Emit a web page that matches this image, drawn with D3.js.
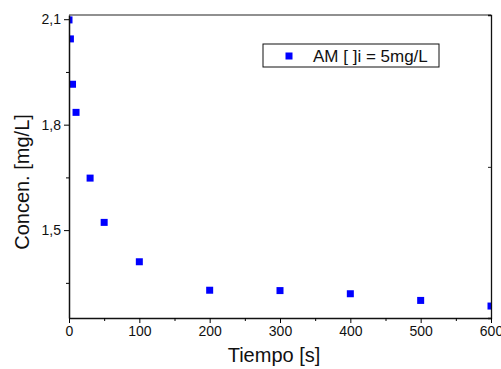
<!DOCTYPE html>
<html>
<head>
<meta charset="utf-8">
<script src="https://cdn.jsdelivr.net/npm/d3@7"></script>
<style>
  html, body { margin: 0; padding: 0; background: #fff; }
  svg { display: block; font-family: Arial, "Liberation Sans", sans-serif; }
</style>
</head>
<body>
<div id="chart"></div>
<script>
// data
const tiempo = [0, 2, 5, 10, 30, 50, 100, 200, 300, 400, 500, 600];
const concen = [2.098, 2.044, 1.915, 1.835, 1.648, 1.522, 1.41, 1.329, 1.328, 1.319, 1.300, 1.284];
const xTicks = [0, 100, 200, 300, 400, 500, 600];
const xMinor = [50, 150, 250, 350, 450, 550];
const yTicks = [1.5, 1.8, 2.1];
const yMinor = [1.35, 1.65, 1.95];
const rightTicks = [1.68];
const legendLabel = 'AM [ ]i = 5mg/L';

const W = 501, H = 369;
const m = { l: 69, r: 10, t: 15, b: 51 };
const pw = W - m.l - m.r, ph = H - m.t - m.b;

const x = d3.scaleLinear().domain([0, 600]).range([0, pw]);
const y = d3.scaleLinear().domain([1.25, 2.112]).range([ph, 0]);
const fmt = d => String(d).replace('.', ',');

const svg = d3.select('#chart').append('svg').attr('width', W).attr('height', H);
const g = svg.append('g').attr('transform', `translate(${m.l},${m.t})`);

svg.append('defs').append('clipPath').attr('id', 'clip')
  .append('rect').attr('width', pw).attr('height', ph);

// points
g.append('g').attr('clip-path', 'url(#clip)')
  .selectAll('rect').data(tiempo.map((t, i) => [t, concen[i]])).join('rect')
  .attr('x', d => x(d[0]) - 3.5).attr('y', d => y(d[1]) - 3.5)
  .attr('width', 7).attr('height', 7).attr('fill', '#0000ff');

// frame top + right
g.append('line').attr('x1', 0).attr('x2', pw).attr('y1', 0).attr('y2', 0)
  .attr('stroke', '#222').attr('stroke-width', 1.2);
const ra = g.append('g').attr('transform', `translate(${pw},0)`)
  .call(d3.axisRight(y).tickValues(rightTicks).tickSize(-3).tickFormat(''));
ra.select('.domain').attr('stroke', '#111').attr('stroke-width', 1.3);
ra.selectAll('.tick line').attr('stroke', '#222');

// x axis
const xa = g.append('g').attr('transform', `translate(0,${ph})`)
  .call(d3.axisBottom(x).tickValues(xTicks).tickSize(5).tickPadding(3).tickSizeOuter(0));
xa.select('.domain').attr('stroke', '#111').attr('stroke-width', 1.5);
xa.selectAll('.tick text').attr('font-size', 14).attr('fill', '#111').attr('font-family', 'Arial, "Liberation Sans", sans-serif');
g.append('g').attr('transform', `translate(0,${ph})`)
  .call(d3.axisBottom(x).tickValues(xMinor).tickSize(3).tickFormat(''))
  .call(s => s.select('.domain').remove());

// y axis
const ya = g.append('g')
  .call(d3.axisLeft(y).tickValues(yTicks).tickSize(5).tickPadding(3).tickSizeOuter(0).tickFormat(fmt));
ya.select('.domain').attr('stroke', '#111').attr('stroke-width', 1.5);
ya.selectAll('.tick text').attr('font-size', 14).attr('fill', '#111').attr('font-family', 'Arial, "Liberation Sans", sans-serif');
g.append('g')
  .call(d3.axisLeft(y).tickValues(yMinor).tickSize(3).tickFormat(''))
  .call(s => s.select('.domain').remove());

// axis titles
svg.append('text').attr('x', m.l + pw / 2 - 6).attr('y', 362)
  .attr('text-anchor', 'middle').attr('font-size', 20).attr('fill', '#111').text('Tiempo [s]');
svg.append('text').attr('transform', 'translate(29,182) rotate(-90)')
  .attr('text-anchor', 'middle').attr('font-size', 20).attr('fill', '#111').text('Concen. [mg/L]');

// legend
const lg = svg.append('g').attr('transform', 'translate(263,44)');
lg.append('rect').attr('width', 176).attr('height', 23)
  .attr('fill', '#fff').attr('stroke', '#111').attr('stroke-width', 1);
lg.append('rect').attr('x', 22.5).attr('y', 8.5).attr('width', 7).attr('height', 7).attr('fill', '#0000ff');
lg.append('text').attr('x', 50).attr('y', 17.5).attr('font-size', 17).attr('fill', '#111').text(legendLabel);
</script>
</body>
</html>
